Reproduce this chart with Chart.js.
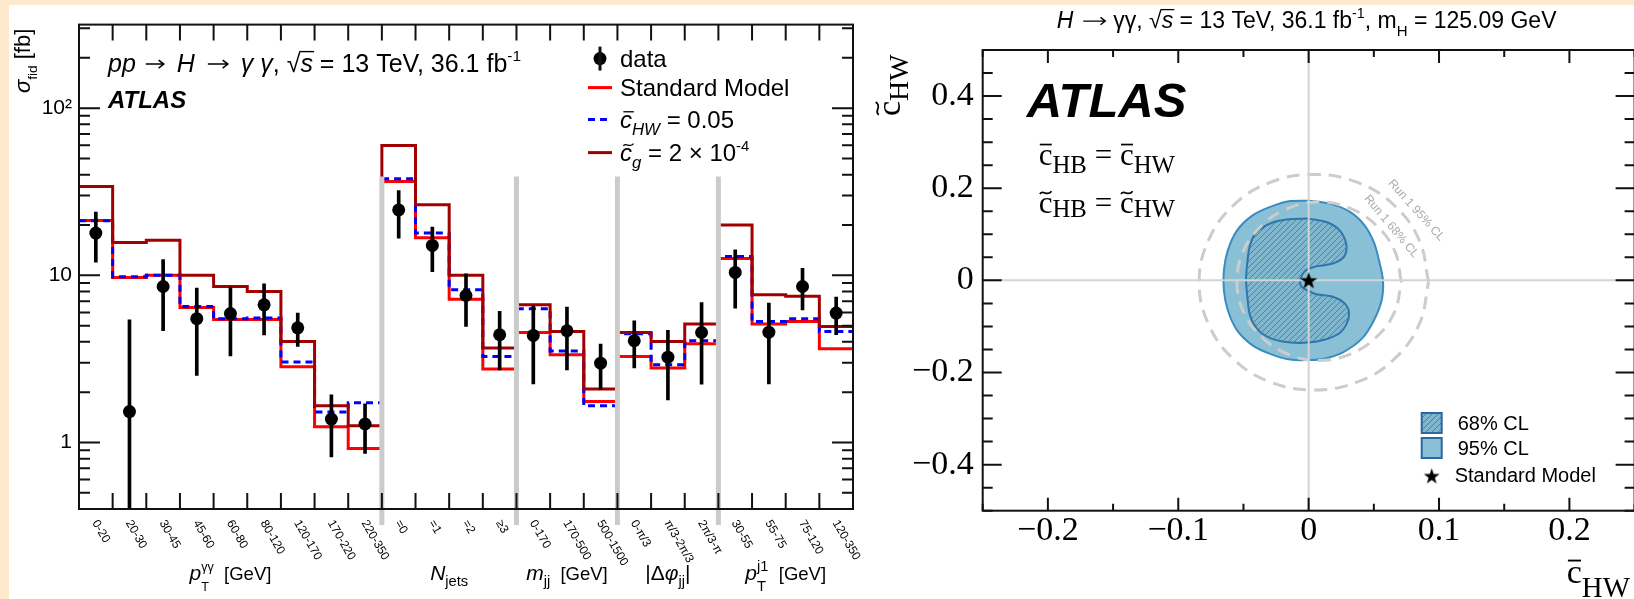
<!DOCTYPE html>
<html>
<head>
<meta charset="utf-8">
<script src="https://cdn.jsdelivr.net/npm/chart.js@4.4.1/dist/chart.umd.min.js"></script>
<style>
  html, body { margin: 0; padding: 0; width: 1634px; height: 599px; overflow: hidden; background: #fee9cc; }
  #paper { position: absolute; left: 9px; top: 5px; right: 0; bottom: 0; background: #fff; }
  #left { position: absolute; left: 9px; top: 5px; }
  #right { position: absolute; left: 869px; top: 5px; }
</style>
</head>
<body>
<div id="paper"></div>
<canvas id="left" width="860" height="594"></canvas>
<canvas id="right" width="791" height="594"></canvas>
<script>
// ---- left panel: fiducial cross sections, 23 bins in 5 groups ----
const binLabels = ['0-20', '20-30', '30-45', '45-60', '60-80', '80-120', '120-170', '170-220', '220-350',
  '=0', '=1', '=2', '≥3', '0-170', '170-500', '500-1500', '0-π/3', 'π/3-2π/3', '2π/3-π',
  '30-55', '55-75', '75-120', '120-350'];
const groupSizes = [9, 4, 3, 3, 4];
const dataVals = [17.9, 1.53, 8.57, 5.5, 5.9, 6.66, 4.85, 1.38, 1.29, 24.6, 15.1, 7.57, 4.41, 4.37, 4.66, 2.98, 4.06, 3.24, 4.55, 10.4, 4.57, 8.57, 5.94];
const errHigh = [23.9, 5.42, 12.4, 8.4, 8.5, 8.9, 5.94, 1.93, 1.70, 32.1, 19.4, 10.2, 6.08, 6.57, 6.45, 3.88, 5.35, 4.68, 6.88, 14.2, 6.82, 11.0, 7.4];
const errLow = [12.0, 0.1, 4.66, 2.52, 3.3, 4.4, 3.75, 0.82, 0.86, 16.7, 10.5, 4.94, 2.72, 2.24, 2.72, 2.07, 2.79, 1.80, 2.23, 6.37, 2.24, 6.2, 4.41];
const smVals = [21.3, 9.7, 10.0, 6.42, 5.44, 5.44, 2.84, 1.24, 0.92, 36.4, 16.8, 7.2, 2.75, 4.55, 3.35, 1.76, 3.27, 2.79, 3.89, 12.6, 5.11, 5.29, 3.64];
const chwVals = [21.2, 9.8, 10.0, 6.5, 5.5, 5.55, 3.03, 1.52, 1.73, 37.8, 17.9, 8.2, 3.27, 6.3, 3.53, 1.66, 4.47, 2.92, 4.06, 12.95, 5.29, 5.5, 4.61];
const cgVals = [34, 15.7, 16.2, 10.0, 8.57, 8.0, 4.02, 1.66, 1.26, 59.7, 26.4, 10.0, 3.67, 6.66, 4.61, 2.09, 4.55, 4.02, 5.11, 20.0, 7.64, 7.5, 4.94];
const leftYRange = [0.4, 316];

const groupTitles = [
  [{t: 'p', it: 1}, {st: ['γγ', 'T'], k: 0.6}, {t: '  [GeV]', k: 0.88}],
  [{t: 'N', it: 1}, {t: 'jets', k: 0.7, dy: 0.3}],
  [{t: 'm', it: 1}, {t: 'jj', k: 0.7, dy: 0.3}, {t: '  [GeV]', k: 0.88}],
  [{t: '|Δ'}, {t: 'φ', it: 1}, {t: 'jj', k: 0.7, dy: 0.3}, {t: '|'}],
  [{t: 'p', it: 1}, {st: ['j1', 'T'], k: 0.7}, {t: '  [GeV]', k: 0.88}]
];
const legendLabels = [
  [{t: 'data'}],
  [{t: 'Standard Model'}],
  [{t: 'c', it: 1, acc: 'bar'}, {t: 'HW', it: 1, k: 0.7, dy: 0.3}, {t: ' = 0.05'}],
  [{t: 'c', it: 1, acc: 'tilde'}, {t: 'g', it: 1, k: 0.7, dy: 0.3}, {t: ' = 2 × 10'}, {t: '-4', k: 0.62, dy: -0.42}]
];

// ---- right panel: 68% / 95% CL contours in (cbar_HW, ctilde_HW) ----
const cl95 = [[0.000, 0.173], [0.017, 0.166], [0.032, 0.148], [0.043, 0.119], [0.050, 0.083], [0.054, 0.043],
  [0.057, 0.000], [0.056, -0.043], [0.050, -0.087], [0.041, -0.126], [0.027, -0.155], [0.012, -0.170],
  [0.000, -0.173], [-0.014, -0.172], [-0.029, -0.160], [-0.043, -0.141], [-0.055, -0.108], [-0.062, -0.065],
  [-0.065, -0.022], [-0.065, 0.022], [-0.062, 0.065], [-0.055, 0.108], [-0.043, 0.141], [-0.029, 0.160],
  [-0.014, 0.172], [0.000, 0.173]];
const cl68 = [[0.000, 0.134], [0.014, 0.126], [0.024, 0.108], [0.029, 0.076], [0.027, 0.051], [0.020, 0.038],
  [0.012, 0.033], [0.004, 0.029], [-0.003, 0.020], [-0.006, 0.004], [-0.006, -0.011], [-0.001, -0.022],
  [0.006, -0.030], [0.019, -0.036], [0.028, -0.051], [0.031, -0.072], [0.029, -0.095], [0.023, -0.116],
  [0.012, -0.129], [0.000, -0.135], [-0.014, -0.135], [-0.029, -0.126], [-0.039, -0.107], [-0.045, -0.076],
  [-0.047, -0.036], [-0.048, 0.000], [-0.047, 0.040], [-0.045, 0.076], [-0.040, 0.105], [-0.029, 0.124],
  [-0.017, 0.132], [0.000, 0.134]];
const run1cl68 = [[0.071, -0.002], [0.066, 0.064], [0.052, 0.119], [0.032, 0.156], [0.008, 0.170], [-0.016, 0.156],
  [-0.036, 0.119], [-0.050, 0.064], [-0.055, -0.002], [-0.050, -0.068], [-0.036, -0.123], [-0.016, -0.160],
  [0.008, -0.174], [0.032, -0.160], [0.052, -0.123], [0.066, -0.068], [0.071, -0.002]];
const run1cl95 = [[0.092, -0.004], [0.085, 0.086], [0.066, 0.162], [0.038, 0.212], [0.004, 0.230], [-0.030, 0.212],
  [-0.058, 0.162], [-0.077, 0.086], [-0.084, -0.004], [-0.077, -0.094], [-0.058, -0.170], [-0.030, -0.220],
  [0.004, -0.238], [0.038, -0.220], [0.066, -0.170], [0.085, -0.094], [0.092, -0.004]];
const smPoint = [0, 0];
const rightXRange = [-0.25, 0.25];
const rightYRange = [-0.5, 0.5];
const rightXTicks = [-0.2, -0.1, 0, 0.1, 0.2];
const rightYTicks = [-0.4, -0.2, 0, 0.2, 0.4];

Chart.defaults.font.family = 'Liberation Sans';
Chart.defaults.color = '#000';

const SANS = 'Liberation Sans';
const SERIF = 'Liberation Serif';

function fontOf(s, size, fam) {
  return (s.it ? 'italic ' : '') + (s.b ? 'bold ' : '') + (size * (s.k || 1)).toFixed(1) + 'px ' + fam;
}

// small rich text helper: italic, sub/superscripts, bar/tilde accents, drawn arrows
function drawRich(ctx, x, y, segs, size, fam, align) {
  ctx.save();
  ctx.textAlign = 'left';
  ctx.textBaseline = 'alphabetic';
  const widths = segs.map(s => {
    ctx.font = fontOf(s, size, fam);
    let w;
    if (s.arrow) w = s.arrow;
    else if (s.st) w = Math.max(...s.st.map(t => ctx.measureText(t).width));
    else w = ctx.measureText(s.t).width;
    return w + (s.pl || 0) + (s.pr || 0);
  });
  const total = widths.reduce((p, w) => p + w, 0);
  let cx = align === 'center' ? x - total / 2 : x;
  segs.forEach((s, i) => {
    const fs = size * (s.k || 1);
    const x0 = cx + (s.pl || 0);
    ctx.font = fontOf(s, size, fam);
    ctx.strokeStyle = ctx.fillStyle;
    if (s.arrow) {
      const ay = y - size * 0.3, h = size * 0.16;
      ctx.lineWidth = Math.max(1, size * 0.06);
      ctx.beginPath();
      ctx.moveTo(x0, ay); ctx.lineTo(x0 + s.arrow - 1, ay);
      ctx.moveTo(x0 + s.arrow - h * 1.3, ay - h); ctx.lineTo(x0 + s.arrow, ay); ctx.lineTo(x0 + s.arrow - h * 1.3, ay + h);
      ctx.stroke();
    } else if (s.st) {
      ctx.fillText(s.st[0], x0, y - size * 0.45);
      ctx.fillText(s.st[1], x0, y + size * 0.5);
    } else {
      const yy = y + (s.dy || 0) * size;
      ctx.fillText(s.t, x0, yy);
      if (s.acc) {
        const cw = ctx.measureText(s.t[0]).width;
        const sl = s.it ? fs * 0.1 : 0;
        const top = yy - fs * (s.acc === 'over' ? 0.8 : 0.66);
        ctx.lineWidth = Math.max(1, fs * 0.055);
        ctx.beginPath();
        if (s.acc === 'tilde') {
          const xa = x0 + cw * 0.08 + sl, w = cw * 0.85, a = fs * 0.045;
          ctx.moveTo(xa, top + a);
          ctx.bezierCurveTo(xa + w * 0.3, top - 2.5 * a, xa + w * 0.6, top + 3.5 * a, xa + w, top - a);
        } else if (s.acc === 'over') {
          ctx.moveTo(x0 - fs * 0.05, top);
          ctx.lineTo(x0 + cw + fs * 0.05, top);
        } else {
          ctx.moveTo(x0 + cw * 0.08 + sl, top);
          ctx.lineTo(x0 + cw * 0.95 + sl, top);
        }
        ctx.stroke();
      }
    }
    cx += widths[i];
  });
  ctx.restore();
  return total;
}

function makeStar(r) {
  const c = document.createElement('canvas');
  c.width = c.height = Math.ceil(2 * r) + 2;
  const g = c.getContext('2d');
  const cx = c.width / 2, cy = c.height / 2 + r * 0.08;
  g.beginPath();
  for (let k = 0; k < 10; k++) {
    const rr = k % 2 ? r * 0.4 : r;
    const ang = -Math.PI / 2 + k * Math.PI / 5;
    g.lineTo(cx + rr * Math.cos(ang), cy + rr * Math.sin(ang));
  }
  g.closePath();
  g.fillStyle = '#000';
  g.fill();
  return c;
}

function makeHatch(bg, line) {
  const n = 6;
  const c = document.createElement('canvas');
  c.width = c.height = n;
  const g = c.getContext('2d');
  g.fillStyle = bg;
  g.fillRect(0, 0, n, n);
  g.strokeStyle = line;
  g.lineWidth = 0.9;
  g.beginPath();
  g.moveTo(0, n); g.lineTo(n, 0);
  g.moveTo(-1, 1); g.lineTo(1, -1);
  g.moveTo(n - 1, n + 1); g.lineTo(n + 1, n - 1);
  g.stroke();
  return g.createPattern(c, 'repeat');
}

const steps = vals => vals.map((v, i) => ({x: i, y: v})).concat([{x: vals.length, y: vals[vals.length - 1]}]);
const pts = arr => arr.map(p => ({x: p[0], y: p[1]}));

// ------------------------------ left chart ------------------------------
const leftDecor = {
  id: 'leftDecor',
  afterDatasetsDraw(chart) {
    const {ctx, chartArea: a, scales: {x}} = chart;
    ctx.save();
    ctx.strokeStyle = '#cbcbcb';
    ctx.lineWidth = 5;
    let edge = 0;
    groupSizes.slice(0, -1).forEach(n => {
      edge += n;
      const px = x.getPixelForValue(edge);
      ctx.beginPath();
      ctx.moveTo(px, a.top + 152);
      ctx.lineTo(px, a.bottom + 16);
      ctx.stroke();
    });
    ctx.restore();
  },
  afterDraw(chart) {
    const {ctx, chartArea: a, scales: {x, y}} = chart;
    ctx.save();
    ctx.strokeStyle = '#111';
    ctx.fillStyle = '#000';
    ctx.lineWidth = 2;
    ctx.strokeRect(a.left, a.top, a.right - a.left, a.bottom - a.top);
    // bin edge ticks on top and bottom
    ctx.beginPath();
    for (let i = 1; i < binLabels.length; i++) {
      const px = x.getPixelForValue(i);
      ctx.moveTo(px, a.top); ctx.lineTo(px, a.top + 16);
      ctx.moveTo(px, a.bottom); ctx.lineTo(px, a.bottom - 16);
    }
    // log ticks on left and right
    [0.1, 1, 10, 100].forEach(d => {
      for (let m = 1; m <= 9; m++) {
        const v = m * d;
        if (v <= leftYRange[0] || v >= leftYRange[1]) continue;
        const py = y.getPixelForValue(v);
        const len = m === 1 ? 21 : 11;
        ctx.moveTo(a.left, py); ctx.lineTo(a.left + len, py);
        ctx.moveTo(a.right, py); ctx.lineTo(a.right - len, py);
      }
    });
    ctx.stroke();

    // rotated bin labels
    ctx.font = '12px ' + SANS;
    ctx.textAlign = 'left';
    ctx.textBaseline = 'middle';
    binLabels.forEach((lab, i) => {
      ctx.save();
      ctx.translate(x.getPixelForValue(i + 0.5) - 1, a.bottom + 12);
      ctx.rotate(Math.PI / 3);
      ctx.fillText(lab, 0, 0);
      ctx.restore();
    });
    // group axis titles
    let start = 0;
    groupSizes.forEach((n, g) => {
      const cxp = x.getPixelForValue(start + n / 2);
      drawRich(ctx, cxp, a.bottom + 71, groupTitles[g], 21, SANS, 'center');
      start += n;
    });

    // y axis title
    ctx.save();
    ctx.translate(21, 88);
    ctx.rotate(-Math.PI / 2);
    drawRich(ctx, 0, 0, [{t: 'σ', it: 1}, {t: 'fid', k: 0.62, dy: 0.3}, {t: ' [fb]'}], 22, SANS);
    ctx.restore();

    // process label and ATLAS
    drawRich(ctx, a.left + 29, a.top + 47, [{t: 'pp', it: 1}, {arrow: 18, pl: 10, pr: 13}, {t: 'H', it: 1},
      {arrow: 20, pl: 13, pr: 13}, {t: 'γ γ', it: 1}, {t: ', '}, {t: '√'}, {t: 's', it: 1, acc: 'over'},
      {t: ' = 13 TeV, 36.1 fb'}, {t: '-1', k: 0.62, dy: -0.42}], 25, SANS);
    ctx.font = 'italic bold 24px ' + SANS;
    ctx.textBaseline = 'alphabetic';
    ctx.fillText('ATLAS', a.left + 29, a.top + 83);

    // legend
    const ds = chart.data.datasets;
    const lx = a.left + 509, rows = [34, 63, 95, 128];
    ctx.beginPath();
    ctx.arc(lx + 12, a.top + rows[0], 6.5, 0, 2 * Math.PI);
    ctx.fill();
    ctx.lineWidth = 3;
    ctx.beginPath();
    ctx.moveTo(lx + 12, a.top + rows[0] - 12);
    ctx.lineTo(lx + 12, a.top + rows[0] + 12);
    ctx.stroke();
    [ds[4], ds[3], ds[2]].forEach((d, k) => {
      const ry = a.top + rows[k + 1];
      ctx.strokeStyle = d.borderColor;
      ctx.lineWidth = d.borderWidth;
      ctx.setLineDash(d.borderDash || []);
      ctx.beginPath();
      ctx.moveTo(lx, ry); ctx.lineTo(lx + 24, ry);
      ctx.stroke();
      ctx.setLineDash([]);
    });
    legendLabels.forEach((segs, k) => drawRich(ctx, lx + 32, a.top + rows[k] + 8, segs, 24, SANS));
    ctx.restore();
  }
};

new Chart(document.getElementById('left'), {
  type: 'line',
  data: {
    datasets: [
      {type: 'line', label: 'data', data: dataVals.map((v, i) => ({x: i + 0.5, y: v})), showLine: false,
        pointRadius: 6.5, pointBackgroundColor: '#000', pointBorderWidth: 0, order: 0},
      {type: 'bar', label: 'uncertainty', data: errLow.map((lo, i) => ({x: i + 0.5, y: [lo, errHigh[i]]})),
        backgroundColor: '#000', barThickness: 3, grouped: false, order: 1},
      {label: 'c̃g = 2 × 10⁻⁴', data: steps(cgVals), stepped: true, borderColor: '#a00000', borderWidth: 3,
        pointRadius: 0, fill: false, order: 2},
      {label: 'c̄HW = 0.05', data: steps(chwVals), stepped: true, borderColor: '#0000ff', borderWidth: 3,
        borderDash: [7, 5], pointRadius: 0, fill: false, order: 3},
      {label: 'Standard Model', data: steps(smVals), stepped: true, borderColor: '#ff0000', borderWidth: 3,
        pointRadius: 0, fill: false, order: 4}
    ]
  },
  options: {
    responsive: false,
    animation: false,
    events: [],
    layout: {autoPadding: false, padding: {left: 0, top: 19, right: 16, bottom: 90}},
    plugins: {legend: {display: false}, tooltip: {enabled: false}},
    scales: {
      x: {type: 'linear', display: false, min: 0, max: binLabels.length, offset: false},
      y: {
        type: 'logarithmic', min: leftYRange[0], max: leftYRange[1],
        grid: {display: false, drawTicks: false}, border: {display: false},
        ticks: {
          autoSkip: false, padding: 7, font: {size: 21, family: SANS}, color: '#000',
          callback: v => v === 1 ? '1' : v === 10 ? '10' : v === 100 ? '10²' : null
        },
        afterFit: s => { s.width = 70; }
      }
    }
  },
  plugins: [leftDecor]
});

// ------------------------------ right chart ------------------------------
const star = makeStar(9);
const legendStar = makeStar(8.3);
const hatch68 = makeHatch('#80b7ce', '#3f7ea6');

const fmtTick = v => Math.abs(v) < 1e-9 ? '0' : (v < 0 ? '−' : '') + Math.abs(v).toFixed(1);

const rightDecor = {
  id: 'rightDecor',
  afterDraw(chart) {
    const {ctx, chartArea: a, scales: {x, y}} = chart;
    ctx.save();
    ctx.strokeStyle = '#111';
    ctx.fillStyle = '#000';
    ctx.lineWidth = 2;
    ctx.strokeRect(a.left, a.top, a.right - a.left, a.bottom - a.top);
    ctx.beginPath();
    for (let v = rightXRange[0]; v <= rightXRange[1] + 1e-9; v += 0.05) {
      const major = Math.abs(v * 10 - Math.round(v * 10)) < 1e-6;
      const px = x.getPixelForValue(v);
      const len = major ? 13 : 7;
      ctx.moveTo(px, a.bottom); ctx.lineTo(px, a.bottom - len);
      ctx.moveTo(px, a.top); ctx.lineTo(px, a.top + len);
    }
    for (let v = rightYRange[0]; v <= rightYRange[1] + 1e-9; v += 0.05) {
      const major = Math.abs(v * 5 - Math.round(v * 5)) < 1e-6;
      const py = y.getPixelForValue(v);
      const len = major ? 19 : 10;
      ctx.moveTo(a.left, py); ctx.lineTo(a.left + len, py);
      ctx.moveTo(a.right, py); ctx.lineTo(a.right - len, py);
    }
    ctx.stroke();

    // header line
    drawRich(ctx, a.left + 74, a.top - 22, [{t: 'H', it: 1}, {arrow: 22, pl: 10, pr: 8}, {t: 'γγ, '}, {t: '√'},
      {t: 's', it: 1, acc: 'over'}, {t: ' = 13 TeV, 36.1 fb'}, {t: '-1', k: 0.62, dy: -0.42}, {t: ', m'},
      {t: 'H', k: 0.65, dy: 0.35}, {t: ' = 125.09 GeV'}], 23, SANS);

    ctx.font = 'italic bold 49px ' + SANS;
    ctx.textBaseline = 'alphabetic';
    ctx.textAlign = 'left';
    ctx.fillText('ATLAS', a.left + 44, a.top + 67);

    drawRich(ctx, a.left + 56, a.top + 115, [{t: 'c', acc: 'bar'}, {t: 'HB', k: 0.8, dy: 0.25}, {t: ' = '},
      {t: 'c', acc: 'bar'}, {t: 'HW', k: 0.8, dy: 0.25}], 31, SERIF);
    drawRich(ctx, a.left + 56, a.top + 163, [{t: 'c', acc: 'tilde'}, {t: 'HB', k: 0.8, dy: 0.12}, {t: ' = '},
      {t: 'c', acc: 'tilde'}, {t: 'HW', k: 0.8, dy: 0.12}], 31, SERIF);

    // axis titles
    ctx.save();
    ctx.translate(a.left - 83, a.top + 66);
    ctx.rotate(-Math.PI / 2);
    drawRich(ctx, 0, 0, [{t: 'c', acc: 'tilde'}, {t: 'HW', k: 0.82, dy: 0.25}], 34, SERIF);
    ctx.restore();
    drawRich(ctx, a.left + 584, a.top + 533, [{t: 'c', acc: 'bar'}, {t: 'HW', k: 0.85, dy: 0.4}], 34, SERIF);

    // Run 1 labels along the dashed circles
    ctx.fillStyle = '#aaaaaa';
    ctx.font = '12px ' + SANS;
    ctx.textAlign = 'center';
    ctx.textBaseline = 'middle';
    [['Run 1 95% CL', 0.0825, 0.152, 48], ['Run 1 68% CL', 0.0634, 0.117, 50]].forEach(([t, vx, vy, rot]) => {
      ctx.save();
      ctx.translate(x.getPixelForValue(vx), y.getPixelForValue(vy));
      ctx.rotate(rot * Math.PI / 180);
      ctx.fillText(t, 0, 0);
      ctx.restore();
    });

    // legend
    const ds = chart.data.datasets;
    const bx = a.left + 439, by = a.top + 363;
    [[ds[5], 0], [ds[6], 25]].forEach(([d, off]) => {
      ctx.fillStyle = d.backgroundColor;
      ctx.fillRect(bx, by + off, 20, 20);
      ctx.strokeStyle = '#2a68a0';
      ctx.lineWidth = 2;
      ctx.strokeRect(bx, by + off, 20, 20);
    });
    ctx.drawImage(legendStar, bx + 10 - legendStar.width / 2, by + 63 - legendStar.height / 2);
    ctx.fillStyle = '#000';
    ctx.font = '20px ' + SANS;
    ctx.textAlign = 'left';
    ctx.textBaseline = 'middle';
    ctx.fillText('68% CL', bx + 36, by + 11);
    ctx.fillText('95% CL', bx + 36, by + 36);
    ctx.fillText('Standard Model', bx + 33, by + 63);
    ctx.restore();
  }
};

new Chart(document.getElementById('right'), {
  type: 'line',
  data: {
    datasets: [
      {label: 'Standard Model', data: [{x: smPoint[0], y: smPoint[1]}], showLine: false,
        pointStyle: star, pointRadius: 9, order: 0},
      {label: 'x0', data: [{x: 0, y: rightYRange[0]}, {x: 0, y: rightYRange[1]}], borderColor: '#d4d4d4',
        borderWidth: 2, pointRadius: 0, order: 1},
      {label: 'y0', data: [{x: rightXRange[0], y: 0}, {x: rightXRange[1], y: 0}], borderColor: '#d4d4d4',
        borderWidth: 2, pointRadius: 0, order: 1},
      {label: 'Run 1 68% CL', data: pts(run1cl68), borderColor: '#cccccc', borderWidth: 3, borderDash: [13, 8],
        tension: 0.4, pointRadius: 0, fill: false, order: 2},
      {label: 'Run 1 95% CL', data: pts(run1cl95), borderColor: '#cccccc', borderWidth: 3, borderDash: [13, 8],
        tension: 0.4, pointRadius: 0, fill: false, order: 2},
      {label: '68% CL', data: pts(cl68), fill: 'shape', backgroundColor: hatch68, borderColor: '#2f76aa',
        borderWidth: 2, tension: 0.3, pointRadius: 0, order: 3},
      {label: '95% CL', data: pts(cl95), fill: 'shape', backgroundColor: '#89c0d5', borderColor: '#3a8cc0',
        borderWidth: 2, tension: 0.3, pointRadius: 0, order: 4}
    ]
  },
  options: {
    responsive: false,
    animation: false,
    events: [],
    layout: {autoPadding: false, padding: {left: 0, top: 45, right: 25.4, bottom: 0}},
    plugins: {legend: {display: false}, tooltip: {enabled: false}},
    scales: {
      x: {
        type: 'linear', min: rightXRange[0], max: rightXRange[1],
        grid: {display: false, drawTicks: false}, border: {display: false},
        afterBuildTicks: s => { s.ticks = rightXTicks.map(v => ({value: v})); },
        ticks: {padding: 0, autoSkip: false, maxRotation: 0, font: {size: 34, family: SERIF},
          color: '#000', callback: fmtTick},
        afterFit: s => { s.height = 88.3; }
      },
      y: {
        type: 'linear', min: rightYRange[0], max: rightYRange[1],
        grid: {display: false, drawTicks: false}, border: {display: false},
        afterBuildTicks: s => { s.ticks = rightYTicks.map(v => ({value: v})); },
        ticks: {padding: 9, autoSkip: false, font: {size: 34, family: SERIF},
          color: '#000', callback: fmtTick},
        afterFit: s => { s.width = 113.7; }
      }
    }
  },
  plugins: [rightDecor]
});
</script>
</body>
</html>
